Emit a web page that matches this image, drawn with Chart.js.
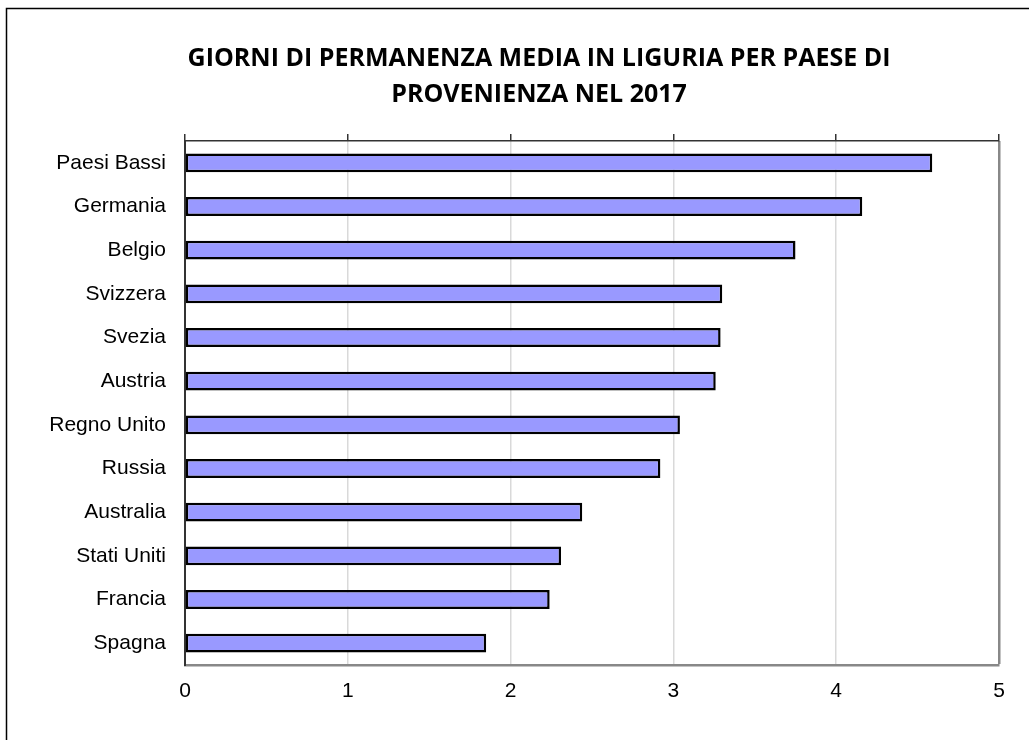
<!DOCTYPE html>
<html>
<head>
<meta charset="utf-8">
<script src="https://cdn.jsdelivr.net/npm/chart.js@4.4.1/dist/chart.umd.min.js"></script>
<style>
html,body{margin:0;padding:0;background:#fff;}
#wrap{position:relative;width:1029px;height:740px;}
</style>
</head>
<body>
<div id="wrap"><canvas id="c" width="1029" height="740"></canvas></div>
<script>
const titleLines = ['GIORNI DI PERMANENZA MEDIA IN LIGURIA PER PAESE DI', 'PROVENIENZA NEL 2017'];
const categories = ['Paesi Bassi','Germania','Belgio','Svizzera','Svezia','Austria','Regno Unito','Russia','Australia','Stati Uniti','Francia','Spagna'];
const values = [4.59, 4.16, 3.75, 3.30, 3.29, 3.26, 3.04, 2.92, 2.44, 2.31, 2.24, 1.85];
const xMin = 0, xMax = 5, xStep = 1;

const framePlugin = {
  id: 'frame',
  afterDraw(chart) {
    const ctx = chart.ctx;
    ctx.save();
    ctx.strokeStyle = '#000';
    ctx.lineWidth = 1.5;
    ctx.strokeRect(6.5, 8.5, 3000, 3000);
    // title (centred on the full chart object, which extends past the right edge)
    ctx.fillStyle = '#000';
    ctx.font = 'bold 25px "Open Sans"';
    ctx.textAlign = 'center';
    ctx.textBaseline = 'alphabetic';
    titleLines.forEach((line, i) => ctx.fillText(line, 539, 66 + i * 36));
    ctx.restore();
  }
};

new Chart(document.getElementById('c'), {
  type: 'bar',
  data: {
    labels: categories,
    datasets: [{
      data: values,
      backgroundColor: '#9999FF',
      borderColor: '#000000',
      borderWidth: 2.5,
      borderSkipped: false,
      categoryPercentage: 1,
      barPercentage: 0.43
    }]
  },
  options: {
    indexAxis: 'y',
    responsive: false,
    animation: false,
    layout: { padding: { left: 0, right: 30, top: 135, bottom: 0 } },
    plugins: {
      legend: { display: false },
      tooltip: { enabled: false },
      title: { display: false }
    },
    scales: {
      x: {
        type: 'linear',
        position: 'bottom',
        min: xMin, max: xMax,
        ticks: {
          stepSize: xStep,
          color: '#000',
          padding: 14,
          font: { family: 'Liberation Sans', size: 21 }
        },
        grid: {
          drawTicks: false,
          color: (ctx) => (ctx.tick && ctx.tick.value === xMax) ? '#888888' : '#d9d9d9',
          lineWidth: (ctx) => (ctx.tick && ctx.tick.value === xMax) ? 2.5 : 1.5
        },
        border: { color: '#888888', width: 2.5 },
        afterFit(scale) { scale.height = 75; }
      },
      x2: {
        type: 'linear',
        position: 'top',
        min: xMin, max: xMax,
        ticks: { stepSize: xStep, display: false },
        grid: {
          drawOnChartArea: false,
          drawTicks: true,
          tickLength: 7,
          color: '#333333',
          lineWidth: 1.5
        },
        border: { color: '#333333', width: 1.5 },
        afterFit(scale) { scale.height = 6; }
      },
      y: {
        position: 'left',
        ticks: {
          color: '#000',
          padding: 19,
          font: { family: 'Liberation Sans', size: 21 }
        },
        grid: { drawOnChartArea: false, drawTicks: false },
        border: { color: '#333333', width: 2 },
        afterFit(scale) { scale.width = 185; }
      }
    }
  },
  plugins: [framePlugin]
});
</script>
</body>
</html>
